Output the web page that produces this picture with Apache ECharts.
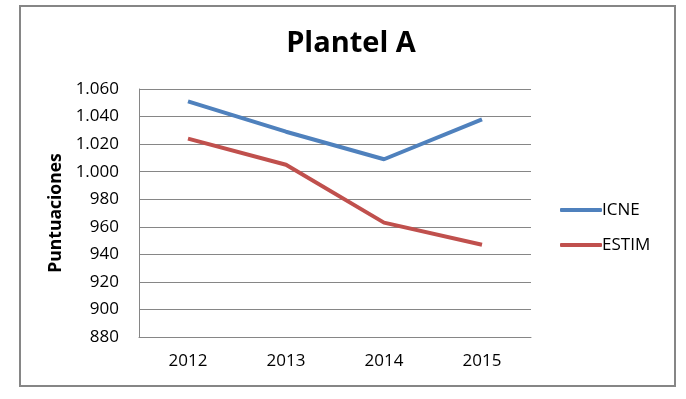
<!DOCTYPE html>
<html><head><meta charset="utf-8">
<script src="https://cdn.jsdelivr.net/npm/echarts@6/dist/echarts.min.js"></script>
<style>html,body{margin:0;padding:0;background:#fff}#c{width:686px;height:399px}</style>
</head><body><div id="c"></div>
<script>
const categories = ['2012','2013','2014','2015'];
const icne = [1051, 1029, 1009, 1038];
const estim = [1024, 1005, 963, 947];
const yTicks = [880, 900, 920, 940, 960, 980, 1000, 1020, 1040, 1060];

const fmt = v => v >= 1000 ? Math.floor(v/1000) + '.' + String(v % 1000).padStart(3,'0') : String(v);
const F = 'Open Sans';
const chart = echarts.init(document.getElementById('c'));
chart.setOption({
  animation: false,
  backgroundColor: '#fff',
  graphic: [{type:'rect', shape:{x:20, y:6, width:655, height:380}, style:{fill:'none', stroke:'#868686', lineWidth:2}}],
  title: {text:'Plantel A', left: 346, top: 24, textAlign:'center',
    textStyle:{fontFamily:F, fontWeight:'bold', fontSize:29, color:'#000'}},
  grid: {left:139, right:155, top:89, bottom:62},
  legend: {orient:'vertical', left:555, top:196, itemWidth:42, itemHeight:4, itemGap:17, icon:'roundRect',
    textStyle:{fontFamily:F, fontSize:17, color:'#000', padding:[0,0,0,-5], lineHeight:18},
    data:['ICNE','ESTIM']},
  xAxis: {type:'category', data:categories, boundaryGap:true,
    axisLine:{lineStyle:{color:'#868686'}}, axisTick:{show:false},
    axisLabel:{fontFamily:F, fontSize:17, color:'#000', margin:16}},
  yAxis: {type:'value', min:880, max:1060, interval:20,
    name:'Puntuaciones', nameLocation:'middle', nameGap:70, nameRotate:90,
    nameTextStyle:{fontFamily:F, fontWeight:'bold', fontSize:17.5, color:'#000'},
    axisLine:{show:true, lineStyle:{color:'#868686'}}, axisTick:{show:false},
    splitLine:{lineStyle:{color:'#868686'}},
    axisLabel:{fontFamily:F, fontSize:17, color:'#000', margin:20, formatter: v => yTicks.includes(v) ? fmt(v) : ''}},
  series: [
    {name:'ICNE', type:'line', data:icne, showSymbol:false, symbol:'none', lineStyle:{width:4, color:'#4F81BD'}, itemStyle:{color:'#4F81BD'}},
    {name:'ESTIM', type:'line', data:estim, showSymbol:false, symbol:'none', lineStyle:{width:4, color:'#C0504D'}, itemStyle:{color:'#C0504D'}}
  ]
});
</script></body></html>
